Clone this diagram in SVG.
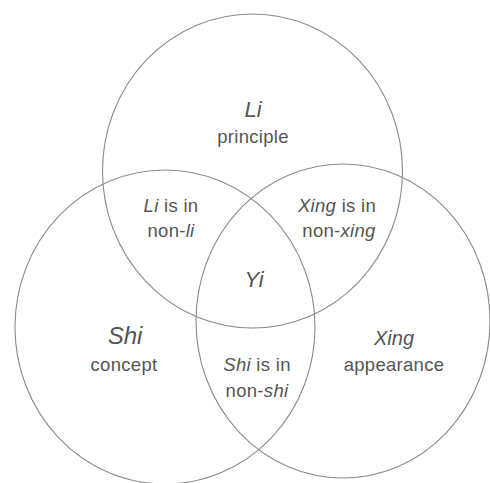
<svg xmlns="http://www.w3.org/2000/svg" width="490" height="483" viewBox="0 0 490 483">
<style>
.c{fill:none;stroke:#8a8a8a;stroke-width:1.1}
text{font-family:"Liberation Sans",Arial,sans-serif;fill:#555;text-anchor:middle}
.b{font-size:18.5px;letter-spacing:0.3px}
.h{font-style:italic}
.i{font-style:italic}
</style>
<rect width="490" height="483" fill="#fff"/>
<g id="connectors"></g>
<g id="li">
<ellipse class="c" cx="252.5" cy="171" rx="150" ry="157"/>
<text class="h" x="253" y="117" font-size="22">Li</text>
<text class="b" x="253" y="143">principle</text>
</g>
<g id="shi">
<ellipse class="c" cx="165" cy="327" rx="150" ry="157"/>
<text class="h" x="125" y="344" font-size="24">Shi</text>
<text class="b" x="124" y="371">concept</text>
</g>
<g id="xing">
<ellipse class="c" cx="343" cy="321" rx="147" ry="157"/>
<text class="h" x="394" y="345" font-size="20">Xing</text>
<text class="b" x="394" y="371">appearance</text>
</g>
<g id="li-shi">
<text class="b" x="171" y="212"><tspan class="i">Li</tspan> is in</text>
<text class="b" x="171" y="237">non-<tspan class="i">li</tspan></text>
</g>
<g id="li-xing">
<text class="b" x="337" y="212"><tspan class="i">Xing</tspan> is in</text>
<text class="b" x="339" y="237">non-<tspan class="i">xing</tspan></text>
</g>
<g id="yi">
<text class="h" x="254" y="287" font-size="22">Yi</text>
</g>
<g id="shi-xing">
<text class="b" x="257" y="371"><tspan class="i">Shi</tspan> is in</text>
<text class="b" x="257" y="397">non-<tspan class="i">shi</tspan></text>
</g>
</svg>
